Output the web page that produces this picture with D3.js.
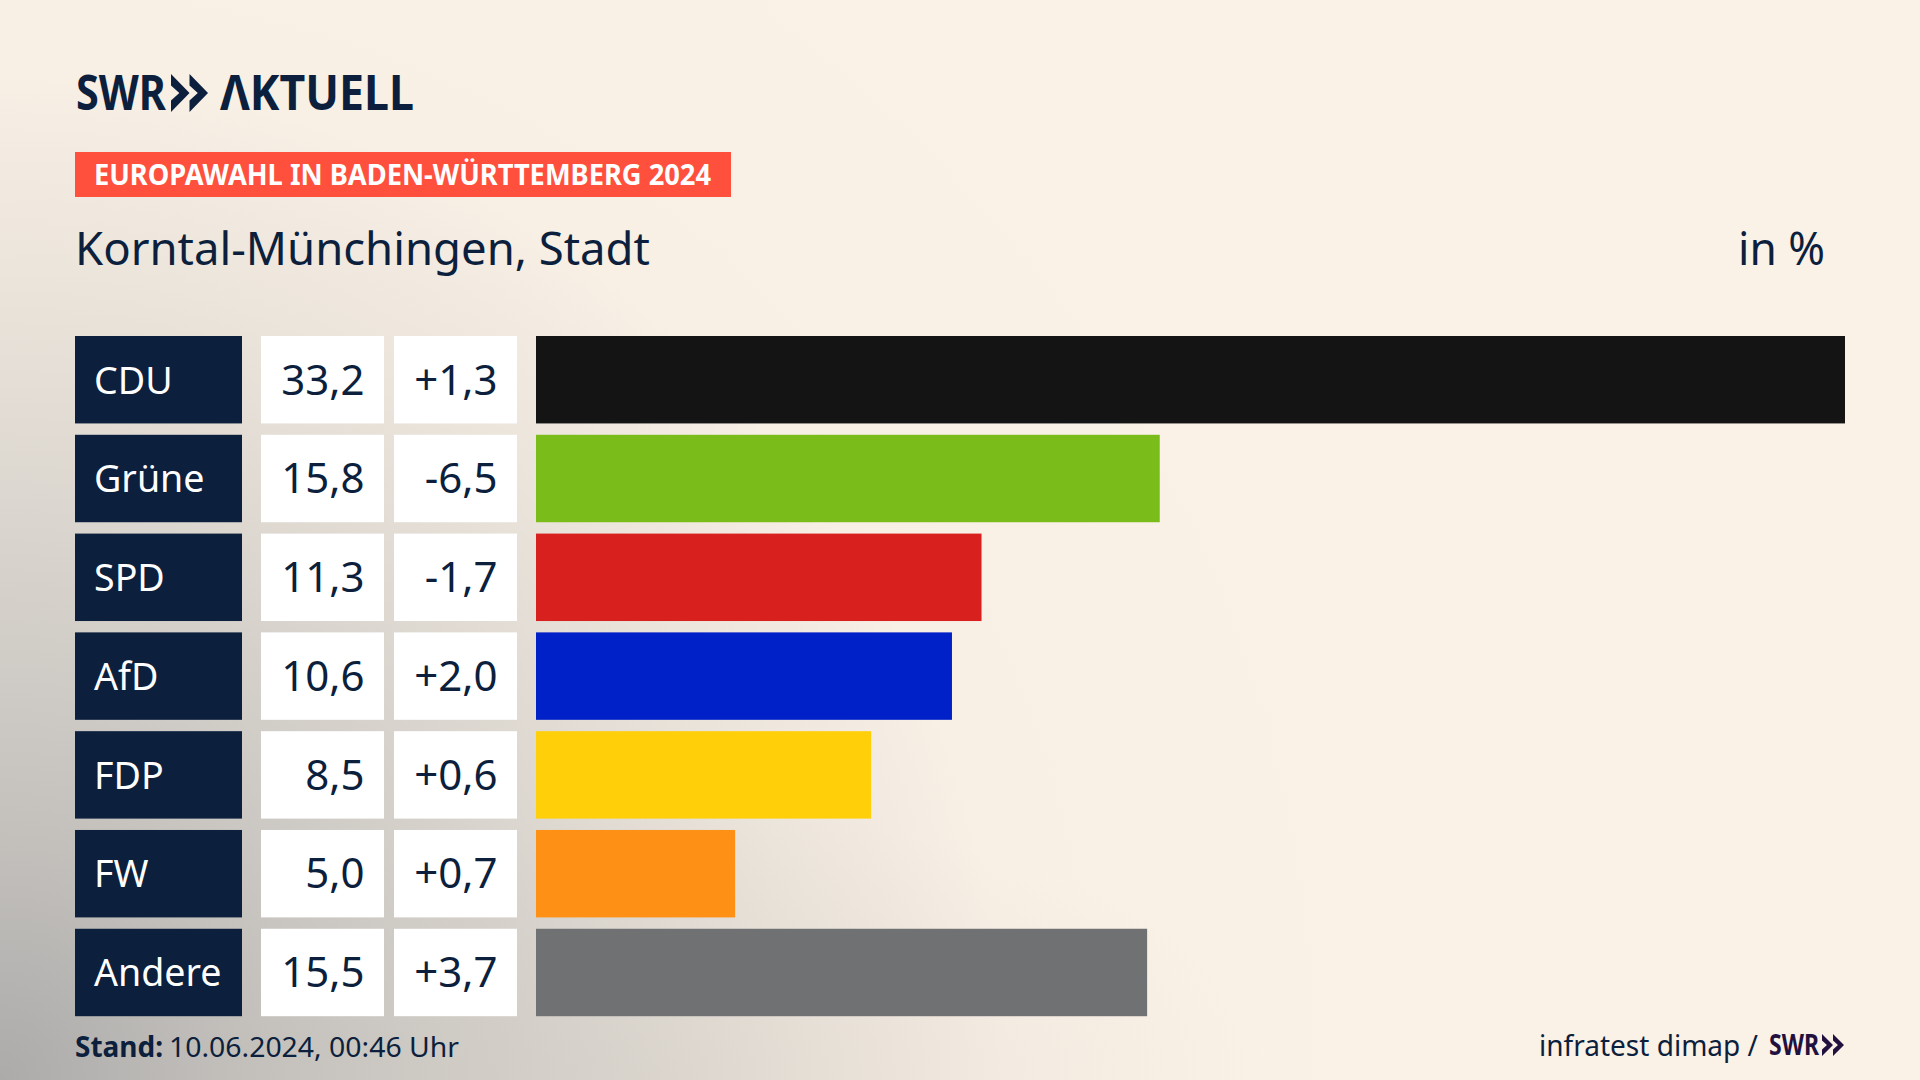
<!DOCTYPE html>
<html>
<head>
<meta charset="utf-8">
<style>
    html, body { margin: 0; padding: 0; background: #faf1e7; overflow: hidden; }
    text { font-family: "Noto Sans", sans-serif; }
</style>
</head>
<body>
    <div id = 'chart'></div>
    <script src = "https://d3js.org/d3.v7.min.js"></script>
    <script>
        var parties = ['CDU', 'Grüne', 'SPD', 'AfD', 'FDP', 'FW', 'Andere'];
        var shares = [33.2, 15.8, 11.3, 10.6, 8.5, 5.0, 15.5];
        //bar lengths, they don't follow the rounded labels exactly
        var barShares = [33.2, 15.82, 11.3, 10.55, 8.5, 5.05, 15.5];
        var changes = [1.3, -6.5, -1.7, 2.0, 0.6, 0.7, 3.7];
        var colors = ['#141414', '#7abd1b', '#d8201e', '#0020c8', '#ffcf0a', '#ff9016', '#707173'];

        var width = 1920,
            height = 1080,
            navy = '#0c1f3d';

        var svg = d3.select('#chart').append('svg')
            .attr('width', width)
            .attr('height', height)
            .style('display', 'block');

        //background: cream with a grey glow coming from the bottom left corner
        var defs = svg.append('defs');
        var glow = defs.append('radialGradient')
            .attr('id', 'glow')
            .attr('gradientUnits', 'userSpaceOnUse')
            .attr('cx', 0).attr('cy', 1080).attr('r', 1400);
        [[0, '#acabaa'], [0.18, '#c4c1bd'], [0.4, '#dad5ce'], [0.58, '#ece5dc'], [0.72, '#f8efe5'], [1, '#faf1e7']]
            .forEach(function(s){
                glow.append('stop').attr('offset', s[0]).attr('stop-color', s[1]);
            });
        svg.append('rect').attr('width', width).attr('height', height).attr('fill', 'url(#glow)');

        //the grey runs out further along the bottom edge
        var floor = defs.append('radialGradient').attr('id', 'floor');
        floor.append('stop').attr('offset', 0).attr('stop-color', '#b9b4ae').attr('stop-opacity', 0.18);
        floor.append('stop').attr('offset', 1).attr('stop-color', '#b9b4ae').attr('stop-opacity', 0);
        svg.append('ellipse').attr('cx', 650).attr('cy', 1080).attr('rx', 620).attr('ry', 270).attr('fill', 'url(#floor)');

        var y = d3.scaleBand().domain(parties).range([336, 1016.2]).paddingInner(0.115);
        var x = d3.scaleLinear().domain([0, d3.max(barShares)]).range([536, 1845]);

        var de = d3.formatLocale({decimal: ',', thousands: '.', grouping: [3], currency: ['', ' €'], minus: '-'});
        var fmtShare = de.format('.1f'),
            fmtChange = de.format('+.1f');

        //squeeze a text to the width it has in the picture
        function fit(sel, w){
            return sel.attr('textLength', w).attr('lengthAdjust', 'spacingAndGlyphs');
        }

        function chevrons(x0, y0, w, h, fill){
            var g = svg.append('g').attr('fill', fill);
            var t = w * 0.5;
            [x0, x0 + w - t].forEach(function(l){
                g.append('path').attr('d', 'M' + l + ',' + y0 + 'L' + (l + t) + ',' + (y0 + h / 2) +
                    'L' + l + ',' + (y0 + h) + 'L' + l + ',' + (y0 + h * 0.7) +
                    'L' + (l + t * 0.45) + ',' + (y0 + h / 2) + 'L' + l + ',' + (y0 + h * 0.3) + 'Z');
            });
        }

        //header
        fit(svg.append('text').attr('x', 76).attr('y', 110).attr('font-size', 49)
            .attr('font-weight', 700).attr('fill', navy).text('SWR'), 90);
        chevrons(171, 74, 37, 38, navy);
        fit(svg.append('text').attr('x', 220).attr('y', 110).attr('font-size', 49)
            .attr('font-weight', 700).attr('fill', navy).text('ΛKTUELL'), 194);

        svg.append('rect').attr('x', 75).attr('y', 152).attr('width', 656).attr('height', 45).attr('fill', '#ff4f3d');
        fit(svg.append('text').attr('x', 94).attr('y', 185).attr('font-size', 28)
            .attr('font-weight', 700).attr('fill', '#fff').text('EUROPAWAHL IN BADEN-WÜRTTEMBERG 2024'), 617);

        fit(svg.append('text').attr('x', 75).attr('y', 265).attr('font-size', 45)
            .attr('fill', navy).text('Korntal-Münchingen, Stadt'), 575);
        fit(svg.append('text').attr('x', 1738).attr('y', 265).attr('font-size', 45)
            .attr('fill', navy).text('in %'), 87);

        //rows
        var rows = svg.selectAll('.row').data(parties).enter().append('g').attr('class', 'row');

        rows.append('rect').attr('x', 75).attr('y', function(d){ return y(d); })
            .attr('width', 167).attr('height', y.bandwidth()).attr('fill', navy);
        rows.append('text').attr('x', 94).attr('y', function(d){ return y(d) + 57.5; })
            .attr('font-size', 37.6).attr('fill', '#fff').text(function(d){ return d; });

        rows.append('rect').attr('x', 261).attr('y', function(d){ return y(d); })
            .attr('width', 123).attr('height', y.bandwidth()).attr('fill', '#fff');
        rows.append('text').attr('x', 364.5).attr('y', function(d){ return y(d) + 58.5; })
            .attr('text-anchor', 'end').attr('font-size', 42).attr('fill', navy)
            .text(function(d, i){ return fmtShare(shares[i]); });

        rows.append('rect').attr('x', 394).attr('y', function(d){ return y(d); })
            .attr('width', 123).attr('height', y.bandwidth()).attr('fill', '#fff');
        rows.append('text').attr('x', 497.5).attr('y', function(d){ return y(d) + 58.5; })
            .attr('text-anchor', 'end').attr('font-size', 42).attr('fill', navy)
            .text(function(d, i){ return fmtChange(changes[i]); });

        rows.append('rect').attr('x', x(0)).attr('y', function(d){ return y(d); })
            .attr('width', function(d, i){ return x(barShares[i]) - x(0); })
            .attr('height', y.bandwidth())
            .attr('fill', function(d, i){ return colors[i]; });

        //footer
        fit(svg.append('text').attr('x', 75).attr('y', 1057).attr('font-size', 28)
            .attr('font-weight', 700).attr('fill', navy).text('Stand:'), 88);
        fit(svg.append('text').attr('x', 169).attr('y', 1057).attr('font-size', 28)
            .attr('fill', navy).text('10.06.2024, 00:46 Uhr'), 290);

        fit(svg.append('text').attr('x', 1539).attr('y', 1056).attr('font-size', 29)
            .attr('fill', navy).text('infratest dimap /'), 219);
        fit(svg.append('text').attr('x', 1769).attr('y', 1055).attr('font-size', 28)
            .attr('font-weight', 700).attr('fill', '#22113f').text('SWR'), 50);
        chevrons(1822, 1034, 22, 22, '#22113f');
    </script>
</body>
</html>
